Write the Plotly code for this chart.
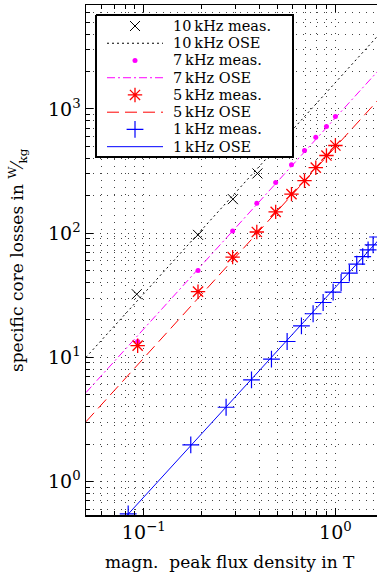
import plotly.graph_objects as go
import math

# ---------------- data ----------------
B_10k = [0.092, 0.192, 0.292, 0.392]
P_10k = [32.2, 96.7, 187.5, 302]

B_7k = [0.093, 0.192, 0.291, 0.389, 0.488, 0.59, 0.69, 0.79, 0.898, 1.0]
P_7k = [13.4, 49.9, 104, 174, 255, 354, 462, 590, 720, 867]

B_5k = [0.093, 0.192, 0.291, 0.389, 0.488, 0.59, 0.69, 0.79, 0.898, 1.0]
P_5k = [12.4, 33.8, 64.0, 102, 148, 206, 264, 336, 421, 507]

B_1k = [0.083, 0.176, 0.269, 0.365, 0.464, 0.56, 0.665, 0.765, 0.863, 0.973,
        1.071, 1.183, 1.292, 1.388, 1.481, 1.573, 1.66]
P_1k = [0.548, 1.97, 3.96, 6.57, 9.65, 13.4, 17.9, 22.4, 27.6, 33.4,
        40.0, 47.6, 56.2, 64.7, 73.3, 80.4, 93]

B_ose = [0.05, 2.0]
P_ose_10k = [10.0, 5290]
P_ose_7k = [5.2, 2750]
P_ose_5k = [3.03, 1600]
P_ose_1k = [0.232, 118]

series_names = ["10\u2009kHz meas.", "10\u2009kHz OSE", "7\u2009kHz meas.", "7\u2009kHz OSE",
                "5\u2009kHz meas.", "5\u2009kHz OSE", "1\u2009kHz meas.", "1\u2009kHz OSE"]

x_tickvals = [0.1, 1]
x_ticktext = ["10<sup>\u22121</sup>", "10<sup>0</sup>"]
y_tickvals = [1, 10, 100, 1000]
y_ticktext = ["10<sup>0</sup>", "10<sup>1</sup>", "10<sup>2</sup>", "10<sup>3</sup>"]

x_minor = [m * 10 ** e for e in (-2, -1, 0) for m in range(2, 10)]
y_minor = [m * 10 ** e for e in (-1, 0, 1, 2, 3) for m in range(2, 10)]

FONT = "DejaVu Serif"
MAGENTA = "#ff00ff"
RED = "#ff0000"
BLUE = "#0000ff"
GRID = "#444444"
GRID_DASH = "1px,6px"

# plot-area geometry in pixels
L, T, W, H = 86, 5, 291, 510

styles = [
    dict(mode="markers", marker=dict(symbol="x-thin-open", size=10, color="black",
                                     line=dict(width=1, color="black"))),
    dict(mode="lines", line=dict(color="black", width=1, dash="2px,3px")),
    dict(mode="markers", marker=dict(symbol="circle", size=5, color=MAGENTA)),
    dict(mode="lines", line=dict(color=MAGENTA, width=1, dash="8px,3px,2px,3px")),
    dict(mode="markers", marker=dict(symbol="asterisk-open", size=12, color=RED,
                                     line=dict(width=1.3, color=RED))),
    dict(mode="lines", line=dict(color=RED, width=1, dash="12px,6px")),
    dict(mode="markers", marker=dict(symbol="cross-thin-open", size=12, color=BLUE,
                                     line=dict(width=1.2, color=BLUE))),
    dict(mode="lines", line=dict(color=BLUE, width=1)),
]
xs = [B_10k, B_ose, B_7k, B_ose, B_5k, B_ose, B_1k, B_ose]
ys = [P_10k, P_ose_10k, P_7k, P_ose_7k, P_5k, P_ose_5k, P_1k, P_ose_1k]

fig = go.Figure()
for name, x, y, st in zip(series_names, xs, ys, styles):
    fig.add_trace(go.Scatter(x=x, y=y, name=name, showlegend=False, **st))

# ---------- custom legend drawn in pixel space (overlay axes x3/y3) ----------
box_x0, box_x1, box_y0, box_y1 = 96, 293, 15, 157
row_y0, row_dy = 26.0, 17.24
samp_x0, samp_x1, mark_x, text_x = 107, 163, 135, 172

fig.add_trace(go.Scatter(
    x=[box_x0 - L, box_x1 - L, box_x1 - L, box_x0 - L, box_x0 - L],
    y=[box_y0 - T, box_y0 - T, box_y1 - T, box_y1 - T, box_y0 - T],
    xaxis="x3", yaxis="y3", mode="lines", fill="toself", fillcolor="white",
    line=dict(color="black", width=2), showlegend=False, hoverinfo="skip"))

for i, (name, st) in enumerate(zip(series_names, styles)):
    ry = row_y0 + i * row_dy - T
    if st["mode"] == "markers":
        sx, sy = [mark_x - L], [ry]
    else:
        sx, sy = [samp_x0 - L, samp_x1 - L], [ry, ry]
    fig.add_trace(go.Scatter(x=sx, y=sy, xaxis="x3", yaxis="y3", showlegend=False,
                             hoverinfo="skip", **st))
    fig.add_annotation(text=name, xref="x3", yref="y3", x=text_x - L, y=ry,
                       xanchor="left", yanchor="middle", showarrow=False,
                       borderpad=0,
                       font=dict(family=FONT, size=14.5, color="black"))

xr = [math.log10(0.05), 0.217]
yr = [-0.2697, 3.836]

fig.update_layout(
    width=377, height=578,
    margin=dict(l=L, r=377 - L - W, t=T, b=578 - T - H, autoexpand=False),
    paper_bgcolor="white", plot_bgcolor="white",
    font=dict(family=FONT, color="black"),
    showlegend=False,
    xaxis=dict(type="log", range=xr, tickmode="array", tickvals=x_tickvals,
               ticktext=x_ticktext, tickfont=dict(size=19, family=FONT),
               ticks="inside", ticklen=7, tickwidth=1, tickcolor="black",
               showline=True, linecolor="black", linewidth=1.5, mirror=False,
               zeroline=False, automargin=False,
               showgrid=True, gridcolor=GRID, gridwidth=1, griddash=GRID_DASH,
               minor=dict(tickmode="array", tickvals=x_minor, ticks="inside",
                          ticklen=4, tickcolor="black", showgrid=True,
                          gridcolor=GRID, gridwidth=1, griddash=GRID_DASH)),
    xaxis2=dict(type="log", range=xr, overlaying="x", side="top", anchor="y",
                tickmode="array", tickvals=x_tickvals, showticklabels=False,
                ticks="inside", ticklen=7, tickcolor="black", automargin=False,
                showline=True, linecolor="black", linewidth=1.5, showgrid=False,
                zeroline=False,
                minor=dict(tickmode="array", tickvals=x_minor, ticks="inside",
                           ticklen=4, tickcolor="black", showgrid=False)),
    yaxis=dict(type="log", range=yr, tickmode="array", tickvals=y_tickvals,
               ticktext=y_ticktext, tickfont=dict(size=19, family=FONT),
               ticks="inside", ticklen=7, tickwidth=1, tickcolor="black",
               showline=True, linecolor="black", linewidth=1.5, mirror=False,
               zeroline=False, automargin=False,
               showgrid=True, gridcolor=GRID, gridwidth=1, griddash=GRID_DASH,
               minor=dict(tickmode="array", tickvals=y_minor, ticks="inside",
                          ticklen=4, tickcolor="black", showgrid=True,
                          gridcolor=GRID, gridwidth=1, griddash=GRID_DASH)),
    xaxis3=dict(overlaying="x", range=[0, W], visible=False, anchor="y3",
                automargin=False, fixedrange=True),
    yaxis3=dict(overlaying="y", range=[H, 0], visible=False, anchor="x3",
                automargin=False, fixedrange=True),
)

# invisible trace to activate the top axis (xaxis2)
fig.add_trace(go.Scatter(x=[0.1], y=[1], xaxis="x2", yaxis="y", mode="markers",
                         marker=dict(opacity=0), showlegend=False, hoverinfo="skip"))

fig.add_annotation(text="specific core losses in <sup>W</sup>\u2044<sub>kg</sub>",
                   xref="paper", yref="paper", x=(17 - L) / W, y=0.5, textangle=-90,
                   xanchor="center", yanchor="middle", showarrow=False,
                   font=dict(family=FONT, size=17, color="black"))
fig.add_annotation(text="magn.  peak flux density in T",
                   xref="paper", yref="paper", x=(230 - L) / W, y=(T + H - 562) / H,
                   xanchor="center", yanchor="middle", showarrow=False,
                   font=dict(family=FONT, size=17, color="black"))

fig.write_html("out.html",
               config={"displayModeBar": False, "staticPlot": True},
               post_script="document.body.style.margin='0px';"
                           "document.body.style.overflow='hidden';")
